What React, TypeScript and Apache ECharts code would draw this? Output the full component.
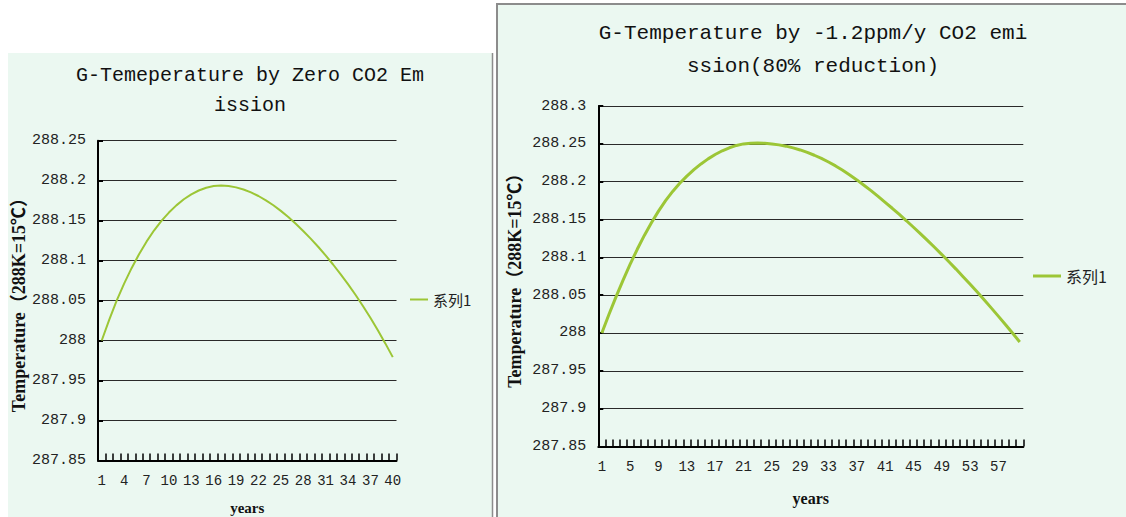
import React, { useEffect, useRef } from "react";
import * as echarts from "echarts";

// ---- data ----
const yearsZero: string[] = Array.from({ length: 40 }, (_, i) => String(i + 1));
const tempZero: number[] = [
  288.0, 288.0258, 288.05, 288.0712, 288.0905, 288.108, 288.1237, 288.1376, 288.1497, 288.1601,
  288.1691, 288.1767, 288.1829, 288.1877, 288.1911, 288.1932, 288.194, 288.1933, 288.1916, 288.1889,
  288.1853, 288.1808, 288.1754, 288.1692, 288.1622, 288.1545, 288.1461, 288.1371, 288.1275, 288.1173,
  288.1065, 288.0951, 288.0831, 288.0705, 288.0572, 288.0432, 288.0284, 288.0128, 287.9964, 287.9792,
];

const yearsCut: string[] = Array.from({ length: 60 }, (_, i) => String(i + 1));
const tempCut: number[] = [
  288.0, 288.0243, 288.0477, 288.0699, 288.0909, 288.1106, 288.1289, 288.1457, 288.161, 288.1748,
  288.1871, 288.1979, 288.2073, 288.2158, 288.2234, 288.2301, 288.2359, 288.2408, 288.2448, 288.2479,
  288.2499, 288.2509, 288.251, 288.2507, 288.2499, 288.2486, 288.2469, 288.2446, 288.2419, 288.2386,
  288.2349, 288.2307, 288.226, 288.2208, 288.2151, 288.2089, 288.2023, 288.1953, 288.1881, 288.1805,
  288.1727, 288.1648, 288.1566, 288.1483, 288.1397, 288.131, 288.1221, 288.1129, 288.1036, 288.0941,
  288.0844, 288.0744, 288.0643, 288.054, 288.0435, 288.0328, 288.0219, 288.0108, 287.9995, 287.988,
];

const seriesName = "系列1";
const titleZero = "G-Temeperature by Zero CO2 Em\nission";
const titleCut = "G-Temperature by -1.2ppm/y CO2 emi\nssion(80% reduction)";
const yName = "Temperature（288K=15℃）";
const xName = "years";

const MINT = "#ebf8f1";
const LINE = "#9cc636";
const MONO = "'Liberation Mono', 'Noto Sans CJK SC', monospace";
const SERIF = "'Liberation Serif', 'Noto Sans CJK SC', serif";
const CJK = "'Noto Sans CJK SC', 'Liberation Serif', serif";

const fmt = (v: number) => String(+v.toFixed(2));

function yAxisOf(grid: number, min: number, max: number, gap: number) {
  return {
    gridIndex: grid,
    type: "value",
    min,
    max,
    interval: 0.05,
    axisLine: { show: true, lineStyle: { color: "#000", width: 2 } },
    axisTick: { show: true, inside: true, length: 5, lineStyle: { color: "#000", width: 2 } },
    splitLine: { show: true, lineStyle: { color: "#2a2a2a", width: 1 } },
    axisLabel: { formatter: fmt, fontFamily: MONO, fontSize: 15, color: "#222", margin: 12 },
    name: yName,
    nameLocation: "middle",
    nameGap: gap,
    nameTextStyle: { fontFamily: SERIF, fontWeight: "bold", fontSize: 18, color: "#111" },
  };
}

function xAxisOf(grid: number, data: string[], labelInterval: number, nameGap: number, nameSize: number) {
  return {
    gridIndex: grid,
    type: "category",
    data,
    boundaryGap: true,
    axisLine: { show: true, onZero: false, lineStyle: { color: "#000", width: 2 } },
    axisTick: { show: true, inside: true, length: 7, interval: 0, lineStyle: { color: "#000", width: 1.5 } },
    splitLine: { show: false },
    axisLabel: { interval: labelInterval, fontFamily: MONO, fontSize: 14, color: "#222", margin: 14 },
    name: xName,
    nameLocation: "middle",
    nameGap,
    nameTextStyle: { fontFamily: SERIF, fontWeight: "bold", fontSize: nameSize, color: "#111" },
  };
}

export default function App() {
  const ref = useRef<HTMLDivElement>(null);
  useEffect(() => {
    if (!ref.current) return;
    const chart = echarts.init(ref.current, undefined, { renderer: "svg" });
    chart.setOption({
      animation: false,
      backgroundColor: "#ffffff",
      graphic: [
        { type: "rect", z: -1, shape: { x: 8, y: 53, width: 485, height: 470 }, style: { fill: MINT } },
        { type: "line", z: -1, shape: { x1: 492.5, y1: 53, x2: 492.5, y2: 517 }, style: { stroke: "#8c8c8c", lineWidth: 1.5 } },
        { type: "rect", z: -1, shape: { x: 497, y: 4, width: 640, height: 530 }, style: { fill: MINT, stroke: "#8c8c8c", lineWidth: 2 } },
      ],
      title: [
        {
          text: titleZero,
          left: 250,
          top: 60,
          textAlign: "center",
          padding: 0,
          textStyle: { fontFamily: MONO, fontSize: 20, fontWeight: "normal", color: "#111", lineHeight: 30 },
        },
        {
          text: titleCut,
          left: 813,
          top: 17,
          textAlign: "center",
          padding: 0,
          textStyle: { fontFamily: MONO, fontSize: 21, fontWeight: "normal", color: "#111", lineHeight: 33 },
        },
      ],
      legend: [
        {
          left: 410,
          top: 292,
          padding: 0,
          selectedMode: false,
          data: [seriesName],
          icon: "rect",
          itemWidth: 18,
          itemHeight: 2,
          textStyle: { fontFamily: CJK, fontSize: 15, color: "#222" },
        },
        {
          left: 1033,
          top: 268,
          padding: 0,
          selectedMode: false,
          data: [seriesName],
          icon: "rect",
          itemWidth: 28,
          itemHeight: 3,
          textStyle: { fontFamily: CJK, fontSize: 16, color: "#222" },
        },
      ],
      grid: [
        { left: 98, top: 140.7, width: 298.5, height: 319.7, containLabel: false, outerBoundsMode: "none" },
        { left: 598.3, top: 106, width: 425, height: 340.4, containLabel: false, outerBoundsMode: "none" },
      ],
      xAxis: [xAxisOf(0, yearsZero, 2, 40, 15), xAxisOf(1, yearsCut, 3, 44, 16)],
      yAxis: [yAxisOf(0, 287.85, 288.25, 70), yAxisOf(1, 287.85, 288.3, 74)],
      series: [
        {
          name: seriesName,
          type: "line",
          xAxisIndex: 0,
          yAxisIndex: 0,
          data: tempZero,
          showSymbol: false,
          symbol: "none",
          smooth: false,
          lineStyle: { color: LINE, width: 2 },
          itemStyle: { color: LINE },
        },
        {
          name: seriesName,
          type: "line",
          xAxisIndex: 1,
          yAxisIndex: 1,
          data: tempCut,
          showSymbol: false,
          symbol: "none",
          smooth: false,
          lineStyle: { color: LINE, width: 3 },
          itemStyle: { color: LINE },
        },
      ],
    });
    return () => chart.dispose();
  }, []);
  return (
    <div
      ref={ref}
      style={{ position: "absolute", left: 0, top: 0, width: 1126, height: 517 }}
    />
  );
}
